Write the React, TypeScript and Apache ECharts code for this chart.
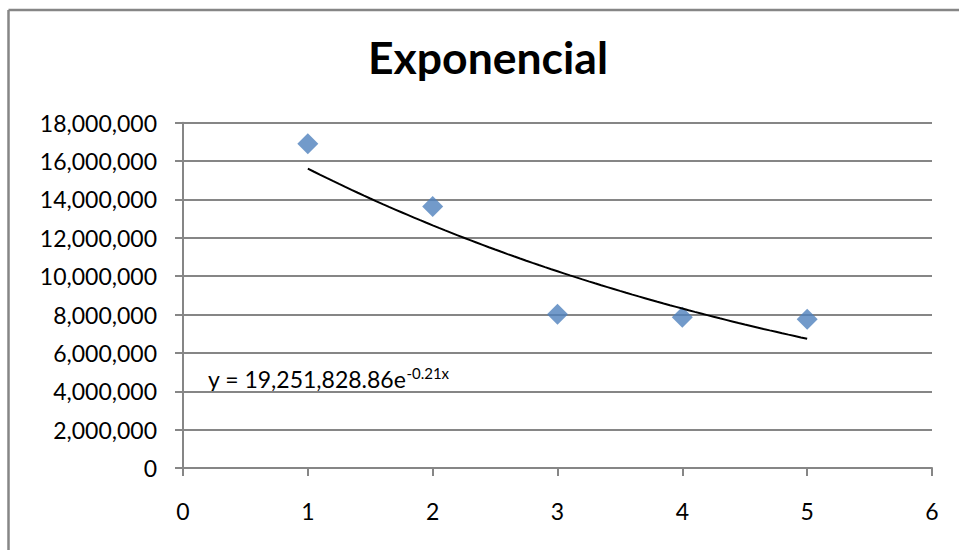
import React, { useEffect, useRef } from "react";
import * as echarts from "echarts";

// Observed points (period, value)
const periods = [1, 2, 3, 4, 5];
const values = [16900000, 13630000, 8010000, 7860000, 7750000];

// Fitted exponential trend: y = a * e^(b x)
const trendA = 19251828.86;
const trendB = -0.21;
const trendFrom = 1;
const trendTo = 5;
const trendSteps = 80;

const xTicks = { min: 0, max: 6, interval: 1 };
const yTicks = { min: 0, max: 18000000, interval: 2000000 };

const titleText = "Exponencial";

const FONT = "Lato, 'Open Sans', sans-serif";
const LABEL_SIZE = 23;
const SUP_SIZE = 15;
const WIDTH = 959;
const HEIGHT = 550;

function measure(text: string, font: string): number {
  const ctx = document.createElement("canvas").getContext("2d");
  if (!ctx) return text.length * 11;
  ctx.font = font;
  return ctx.measureText(text).width;
}

export default function App() {
  const ref = useRef<HTMLDivElement>(null);

  useEffect(() => {
    if (!ref.current) return;
    // the chart fills the whole window
    const prevMargin = document.body.style.margin;
    document.body.style.margin = "0";

    const chart = echarts.init(ref.current, null, { renderer: "svg" });

    const trend: number[][] = [];
    for (let i = 0; i <= trendSteps; i++) {
      const x = trendFrom + ((trendTo - trendFrom) * i) / trendSteps;
      trend.push([x, trendA * Math.exp(trendB * x)]);
    }

    const fmt = (v: number) => v.toLocaleString("en-US");
    const coefText = trendA.toLocaleString("en-US", {
      minimumFractionDigits: 2,
      maximumFractionDigits: 2,
    });
    const eqMain = `y = ${coefText}e`;
    const eqSup = `${trendB}x`;
    const eqLeft = 208;
    const eqMainWidth = measure(eqMain, `${LABEL_SIZE}px Lato`);

    const frameStyle = { stroke: "#868686", lineWidth: 2.5 };

    chart.setOption({
      animation: false,
      backgroundColor: "#ffffff",
      title: {
        text: titleText,
        left: 483,
        textAlign: "center",
        top: 29,
        textStyle: { fontFamily: FONT, fontSize: 44.5, fontWeight: "bold", color: "#000" },
      },
      grid: { left: 183, right: 27, top: 122.7, bottom: 82, containLabel: false },
      xAxis: {
        type: "value",
        min: xTicks.min,
        max: xTicks.max,
        interval: xTicks.interval,
        axisLine: { show: true, onZero: false, lineStyle: { color: "#868686", width: 2 } },
        axisTick: { show: true, inside: false, length: 8, lineStyle: { color: "#868686", width: 2 } },
        splitLine: { show: false },
        axisLabel: { margin: 31, color: "#000", fontFamily: FONT, fontSize: LABEL_SIZE },
      },
      yAxis: {
        type: "value",
        min: yTicks.min,
        max: yTicks.max,
        interval: yTicks.interval,
        axisLine: { show: true, lineStyle: { color: "#868686", width: 2 } },
        axisTick: { show: true, inside: false, length: 8, lineStyle: { color: "#868686", width: 2 } },
        splitLine: { show: true, lineStyle: { color: "#868686", width: 2 } },
        axisLabel: { margin: 26, color: "#000", fontFamily: FONT, fontSize: LABEL_SIZE, formatter: fmt },
      },
      series: [
        {
          type: "scatter",
          data: periods.map((p, i) => [p, values[i]]),
          symbol: "diamond",
          symbolSize: [21, 21],
          itemStyle: { color: "#4F81BD" },
          z: 3,
        },
        {
          type: "line",
          data: trend,
          showSymbol: false,
          symbol: "none",
          lineStyle: { color: "#000", width: 2 },
          z: 4,
        },
      ],
      graphic: [
        // chart frame: only its left and top edges fall inside the view
        {
          type: "line",
          shape: { x1: 8.5, y1: 10, x2: 8.5, y2: HEIGHT },
          style: frameStyle,
          silent: true,
        },
        {
          type: "line",
          shape: { x1: 8.5, y1: 10, x2: WIDTH, y2: 10 },
          style: frameStyle,
          silent: true,
        },
        {
          type: "text",
          style: {
            x: eqLeft,
            y: 379,
            text: eqMain,
            fontFamily: FONT,
            fontSize: LABEL_SIZE,
            fill: "#000",
            verticalAlign: "middle",
          },
        },
        {
          type: "text",
          style: {
            x: eqLeft + eqMainWidth,
            y: 373,
            text: eqSup,
            fontFamily: FONT,
            fontSize: SUP_SIZE,
            fill: "#000",
            verticalAlign: "middle",
          },
        },
      ],
    });

    return () => {
      chart.dispose();
      document.body.style.margin = prevMargin;
    };
  }, []);

  return <div ref={ref} style={{ width: WIDTH, height: HEIGHT }} />;
}
